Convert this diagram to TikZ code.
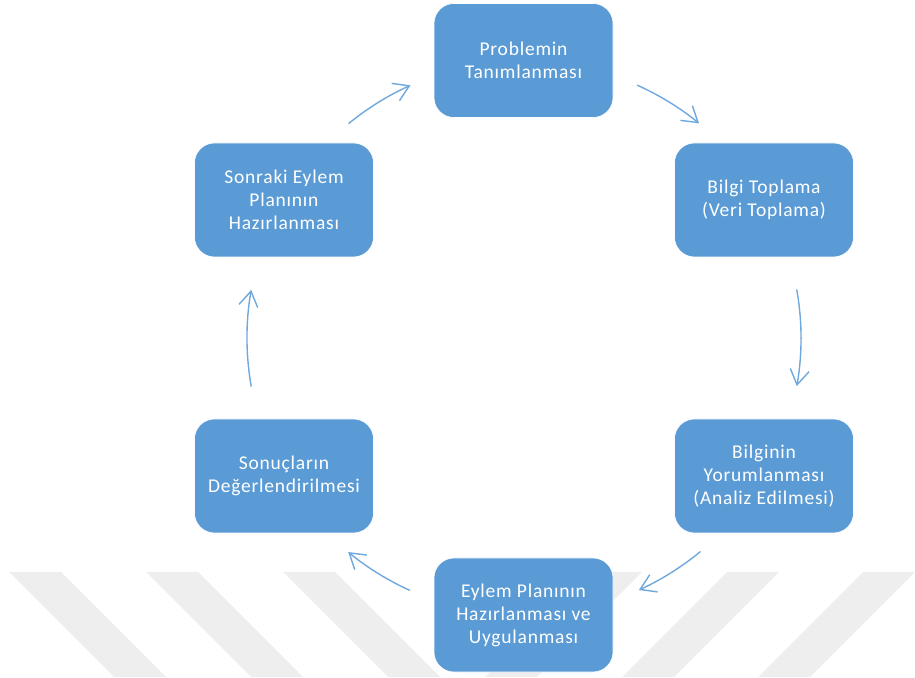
\documentclass[tikz,border=0pt]{standalone}
\usepackage{fontspec}
\setmainfont{Carlito}[LetterSpace=4]
\usetikzlibrary{arrows.meta,calc}
\definecolor{boxblue}{HTML}{5B9BD5}
\definecolor{arrblue}{HTML}{6FA8DC}
\definecolor{wm}{HTML}{EEEEEE}
\tikzset{
  stepbox/.style={rectangle, rounded corners=20pt, fill=boxblue, draw=white, line width=0.6pt,
    minimum width=179pt, minimum height=114pt, text=white, align=center,
    font=\fontsize{19.5}{23}\selectfont, inner sep=0pt},
  cyc/.style={draw=arrblue, line width=1.4pt, line cap=round, line join=round,
    -{Straight Barb[length=15pt,width=19pt,line width=1.4pt]}},
  wmstripe/.style={fill=wm, draw=none}
}
\begin{document}
\begin{tikzpicture}[x=1pt,y=1pt]
\useasboundingbox (0,0) rectangle (915,677);
% faint watermark stripes
\begin{scope}
\clip (0,0) rectangle (915,677);
\foreach \x in {9,146,283}{
  \fill[wmstripe] (\x,105) -- (\x+52,105) -- (\x+157,0) -- (\x+105,0) -- cycle;
}
\foreach \x in {590,727,863}{
  \fill[wmstripe] (\x,105) -- (\x+52,105) -- (\x-53,0) -- (\x-105,0) -- cycle;
}
\end{scope}
% nodes
\node[stepbox] (P) at (523.5,616.5) {Problemin\\Tanımlanması};
\node[stepbox] (B) at (764,477) {Bilgi Toplama\\(Veri Toplama)};
\node[stepbox] (Y) at (764,201) {Bilginin\\Yorumlanması\\(Analiz Edilmesi)};
\node[stepbox] (E) at (523.5,62) {Eylem Planının\\Hazırlanması ve\\Uygulanması};
\node[stepbox] (S) at (284,201) {Sonuçların\\Değerlendirilmesi};
\node[stepbox] (N) at (284,477) {Sonraki Eylem\\Planının\\Hazırlanması};
% cycle arrows
\coordinate (C) at (524,339);
\coordinate (a1) at ($(C)+(129.2:277)$);
\coordinate (a2) at ($(C)+(65.8:277)$);
\coordinate (a3) at ($(C)+(10:277)$);
\coordinate (a4) at ($(C)+(-50.5:277)$);
\coordinate (a5) at ($(C)+(-114.4:277)$);
\coordinate (a6) at ($(C)+(190:277)$);
\draw[cyc] (a1) arc[start angle=129.2, end angle=114.2, radius=277];
\draw[cyc] (a2) arc[start angle=65.8, end angle=50.8, radius=277];
\draw[cyc] (a3) arc[start angle=10, end angle=-10, radius=277];
\draw[cyc] (a4) arc[start angle=-50.5, end angle=-65.5, radius=277];
\draw[cyc] (a5) arc[start angle=-114.4, end angle=-129.4, radius=277];
\draw[cyc] (a6) arc[start angle=190, end angle=170, radius=277];
\end{tikzpicture}
\end{document}
